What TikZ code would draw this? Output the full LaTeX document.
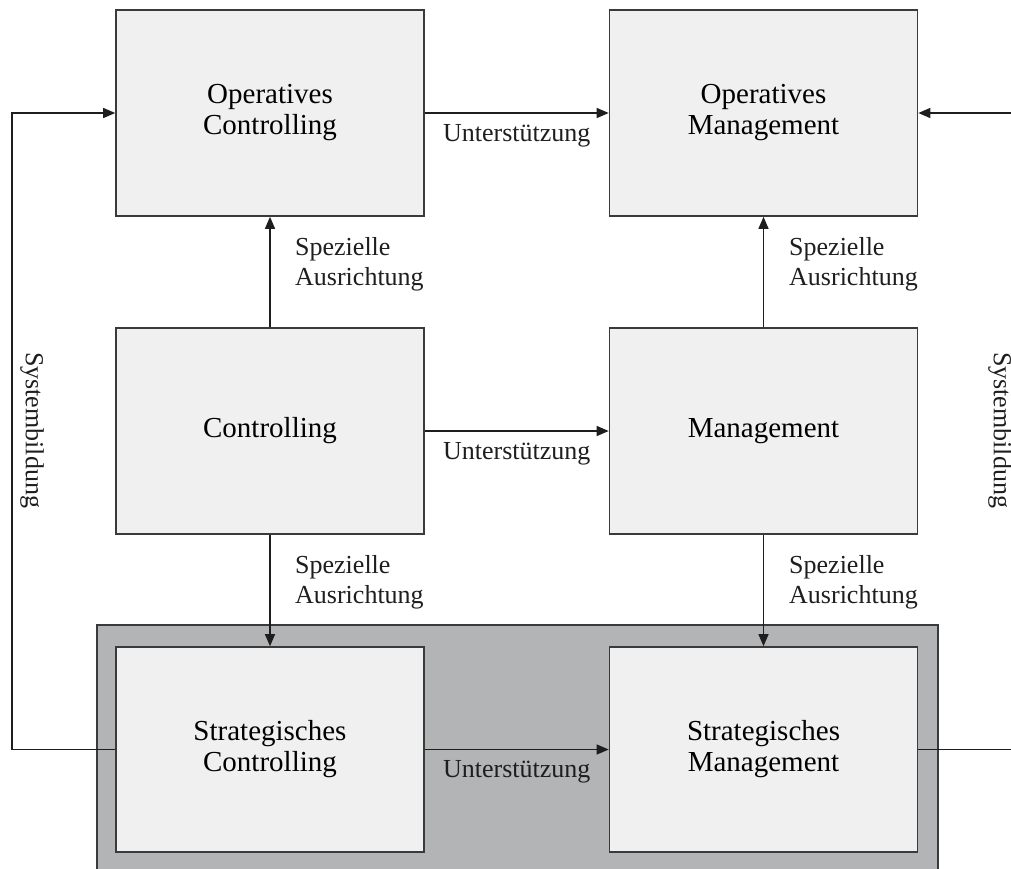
\documentclass[tikz,border=0pt]{standalone}
\usepackage{fontspec}
\setmainfont{Liberation Serif}
\usetikzlibrary{arrows.meta}
\definecolor{boxfill}{HTML}{F0F0F0}
\definecolor{bandfill}{HTML}{B3B4B6}
\definecolor{edgecol}{HTML}{3A3A3A}
\definecolor{linecol}{HTML}{1E1E1E}
\begin{document}
\begin{tikzpicture}[x=1pt,y=-1pt,
  unit/.style={draw=edgecol, line width=1.6pt, fill=boxfill,
    minimum width=308pt, minimum height=206pt, inner sep=0pt,
    align=center, font=\fontsize{29}{31}\selectfont},
  arr/.style={draw=linecol, line width=1.3pt, -{Triangle[length=12pt,width=10pt]}},
  plain/.style={draw=linecol, line width=1.3pt},
  lbl/.style={font=\fontsize{26}{30}\selectfont, inner sep=0pt, text=linecol},
  sidelbl/.style={lbl, align=left, anchor=base west}]
\useasboundingbox (0,0) rectangle (1011,868);
\begin{scope}
\clip (0,0) rectangle (1011,868);
% strategic band
\draw[draw=edgecol, line width=1.6pt, fill=bandfill] (97,625) rectangle (938,880);

% units
\node[unit] (oc) at (270,113) {Operatives\\Controlling};
\node[unit] (om) at (763.5,113) {Operatives\\Management};
\node[unit] (c)  at (270,431) {Controlling};
\node[unit] (m)  at (763.5,431) {Management};
\node[unit, minimum height=205pt] (sc) at (270,749.5) {Strategisches\\Controlling};
\node[unit, minimum height=205pt] (sm) at (763.5,749.5) {Strategisches\\Management};

% support relations
\draw[arr] (oc) -- node[lbl, midway, anchor=base, yshift=-28pt] {Unterstützung} (om);
\draw[arr] (c) -- node[lbl, midway, anchor=base, yshift=-28pt] {Unterstützung} (m);
\draw[arr] (sc) -- node[lbl, midway, anchor=base, yshift=-28pt] {Unterstützung} (sm);

% specialisation (label base = baseline of its second line)
\draw[arr] (c) -- (oc);
\draw[arr] (m) -- (om);
\draw[arr] (c) -- (sc);
\draw[arr] (m) -- (sm);
\node[sidelbl] (s1) at (295,285) {Spezielle\\Ausrichtung};
\node[sidelbl] (s2) at (789,285) {Spezielle\\Ausrichtung};
\node[sidelbl] (s3) at (295,603) {Spezielle\\Ausrichtung};
\node[sidelbl] (s4) at (789,603) {Spezielle\\Ausrichtung};

% system building loops
\coordinate (lc) at (12,431);
\coordinate (rtop) at (1015,113);
\coordinate (rbot) at (1015,749.5);
\draw[arr] (sc.west) -| (lc) |- (oc.west);
\draw[arr] (rtop) -- (om.east);
\draw[plain] (sm.east) -- (rbot);
\node[lbl, rotate=-90] (sbl) at (32,430) {Systembildung};
\node[lbl, rotate=-90] (sbr) at (1000,430) {Systembildung};
\end{scope}
\end{tikzpicture}
\end{document}
